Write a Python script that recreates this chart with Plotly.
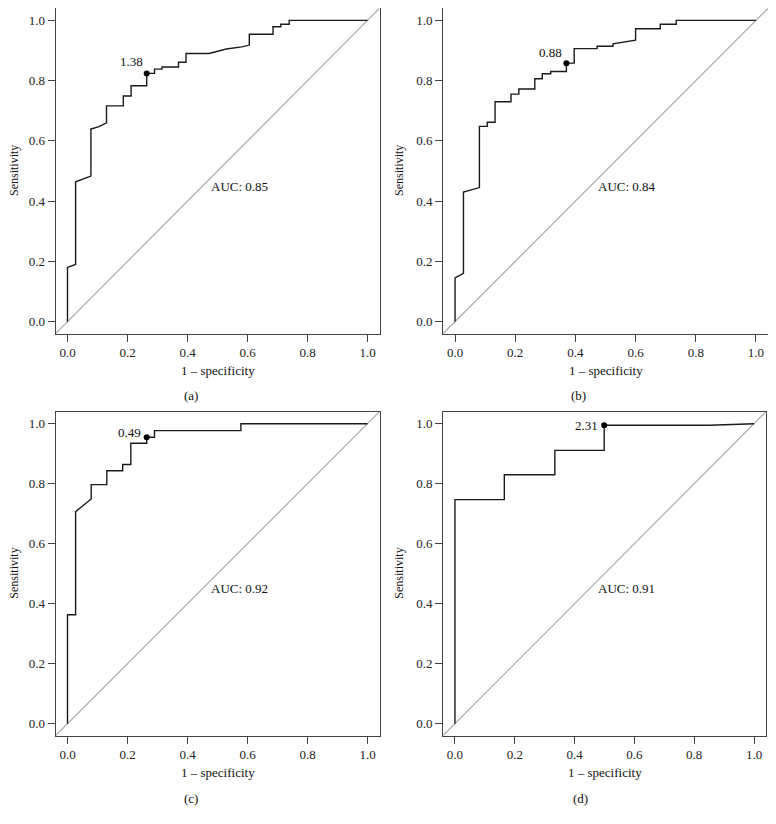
import plotly.graph_objects as go

# ---------------- data ----------------
tick_vals = [0.0, 0.2, 0.4, 0.6, 0.8, 1.0]
tick_text = ["0.0", "0.2", "0.4", "0.6", "0.8", "1.0"]
panel_labels = ["(a)", "(b)", "(c)", "(d)"]
auc_values = [0.85, 0.84, 0.92, 0.91]
thresholds = ["1.38", "0.88", "0.49", "2.31"]

fpr_a = [0, 0, 0.027, 0.027, 0.078, 0.078, 0.105, 0.13, 0.13, 0.186, 0.186, 0.212, 0.212,
         0.264, 0.264, 0.29, 0.29, 0.315, 0.315, 0.37, 0.37, 0.395, 0.395, 0.472, 0.529,
         0.581, 0.606, 0.606, 0.685, 0.685, 0.711, 0.711, 0.739, 0.739, 1.0]
sens_a = [0, 0.18, 0.19, 0.464, 0.483, 0.639, 0.647, 0.66, 0.716, 0.716, 0.749, 0.749, 0.783,
          0.783, 0.824, 0.824, 0.838, 0.838, 0.845, 0.845, 0.861, 0.861, 0.89, 0.89, 0.905,
          0.912, 0.918, 0.954, 0.954, 0.979, 0.979, 0.987, 0.987, 1.0, 1.0]

fpr_b = [0, 0, 0.028, 0.028, 0.081, 0.081, 0.107, 0.107, 0.133, 0.133, 0.186, 0.186,
         0.212, 0.212, 0.265, 0.265, 0.29, 0.29, 0.318, 0.318, 0.37, 0.37, 0.396, 0.396,
         0.472, 0.472, 0.525, 0.525, 0.6, 0.6, 0.682, 0.682, 0.735, 0.735, 1.0]
sens_b = [0, 0.145, 0.16, 0.43, 0.445, 0.648, 0.648, 0.662, 0.662, 0.73, 0.73, 0.755,
          0.755, 0.772, 0.772, 0.806, 0.806, 0.823, 0.823, 0.83, 0.83, 0.858, 0.858, 0.906,
          0.906, 0.914, 0.914, 0.922, 0.934, 0.972, 0.972, 0.987, 0.987, 1.0, 1.0]

fpr_c = [0, 0, 0.027, 0.027, 0.079, 0.079, 0.131, 0.131, 0.184, 0.184, 0.211, 0.211,
         0.264, 0.264, 0.29, 0.29, 0.578, 0.578, 1.0]
sens_c = [0, 0.363, 0.363, 0.707, 0.749, 0.797, 0.797, 0.843, 0.843, 0.864, 0.864, 0.935,
          0.935, 0.955, 0.955, 0.977, 0.977, 1.0, 1.0]

fpr_d = [0, 0, 0.165, 0.165, 0.334, 0.334, 0.499, 0.499, 0.85, 1.0]
sens_d = [0, 0.747, 0.747, 0.83, 0.83, 0.911, 0.911, 0.995, 0.995, 1.0]

best_fpr = [0.264, 0.37, 0.264, 0.499]
best_sens = [0.824, 0.858, 0.955, 0.995]

curves = [(fpr_a, sens_a), (fpr_b, sens_b), (fpr_c, sens_c), (fpr_d, sens_d)]

# ---------------- layout geometry ----------------
# the page body has an 8px margin, so the figure is offset by 8px
OFF = 8
W, H = 768, 816
FONT = "Liberation Serif"
# pixel boxes in page coordinates (left, right, top, bottom)
boxes = [(55.5, 379.5, 8.3, 333.7), (443, 768, 8.3, 333.7),
         (55.5, 379.5, 411.7, 735.7), (443, 766, 411.7, 735.7)]
caption_x = [191, 578, 191, 580]
caption_y = [395, 395, 798.3, 798.3]
ytitle_x = [14, 399, 14, 399]
label_shift = [(-2, 12, "middle"), (-2, 11, "middle"), (-4, 5, "middle"), (-4, 0, "middle")]


def px(xp):
    return (xp - OFF) / W


def py(yp):
    return 1 - (yp - OFF) / H


fig = go.Figure()
annotations = []
for i, (fx, sy) in enumerate(curves):
    l, r, t, b = boxes[i]
    n = "" if i == 0 else str(i + 1)
    xa, ya = "x" + n, "y" + n
    # diagonal reference line
    fig.add_trace(go.Scatter(x=[-0.04, 1.04], y=[-0.04, 1.04], mode="lines",
                             line=dict(color="#ababab", width=1.2), xaxis=xa, yaxis=ya,
                             showlegend=False, hoverinfo="skip"))
    fig.add_trace(go.Scatter(x=fx, y=sy, mode="lines",
                             line=dict(color="#1a1a1a", width=1.4), xaxis=xa, yaxis=ya,
                             showlegend=False))
    fig.add_trace(go.Scatter(x=[best_fpr[i]], y=[best_sens[i]], mode="markers",
                             marker=dict(color="black", size=6), xaxis=xa, yaxis=ya,
                             showlegend=False))
    axis_common = dict(range=[-0.04, 1.04], tickvals=tick_vals, ticktext=tick_text,
                       ticks="outside", ticklen=7, tickcolor="#444", tickwidth=1,
                       showline=True, mirror=True, linecolor="#444", linewidth=1,
                       showgrid=False, zeroline=False,
                       tickfont=dict(family=FONT, size=13, color="#222"))
    fig.layout["xaxis" + n] = dict(axis_common, domain=[px(l), px(r)], anchor=ya)
    fig.layout["yaxis" + n] = dict(axis_common, domain=[py(b), py(t)], anchor=xa)
    # threshold label
    dx, dy, va = label_shift[i]
    annotations.append(dict(x=best_fpr[i], y=best_sens[i], xref=xa, yref=ya,
                            text=thresholds[i], showarrow=False, xanchor="right",
                            yanchor=va, xshift=dx, yshift=dy,
                            font=dict(family=FONT, size=13, color="#111")))
    # AUC text
    annotations.append(dict(x=0.47, y=0.45, xref=xa, yref=ya,
                            text="AUC: %.2f" % auc_values[i], showarrow=False,
                            xanchor="left", yanchor="middle",
                            font=dict(family=FONT, size=13, color="#111")))
    # axis titles
    annotations.append(dict(x=px((l + r) / 2), y=py(b + 37),
                            xref="paper", yref="paper", text="1 \u2013 specificity",
                            showarrow=False, xanchor="center", yanchor="middle",
                            font=dict(family=FONT, size=13, color="#111")))
    annotations.append(dict(x=px(ytitle_x[i]), y=py((t + b) / 2),
                            xref="paper", yref="paper", text="Sensitivity",
                            showarrow=False, textangle=-90, xanchor="center",
                            yanchor="middle",
                            font=dict(family=FONT, size=12, color="#111")))
    annotations.append(dict(x=px(caption_x[i]), y=py(caption_y[i]),
                            xref="paper", yref="paper", text=panel_labels[i],
                            showarrow=False, xanchor="center", yanchor="middle",
                            font=dict(family=FONT, size=13, color="#111")))

fig.update_layout(width=W, height=H, margin=dict(l=0, r=0, t=0, b=0),
                  paper_bgcolor="white", plot_bgcolor="white",
                  annotations=annotations, showlegend=False)
fig.write_html("out.html")
